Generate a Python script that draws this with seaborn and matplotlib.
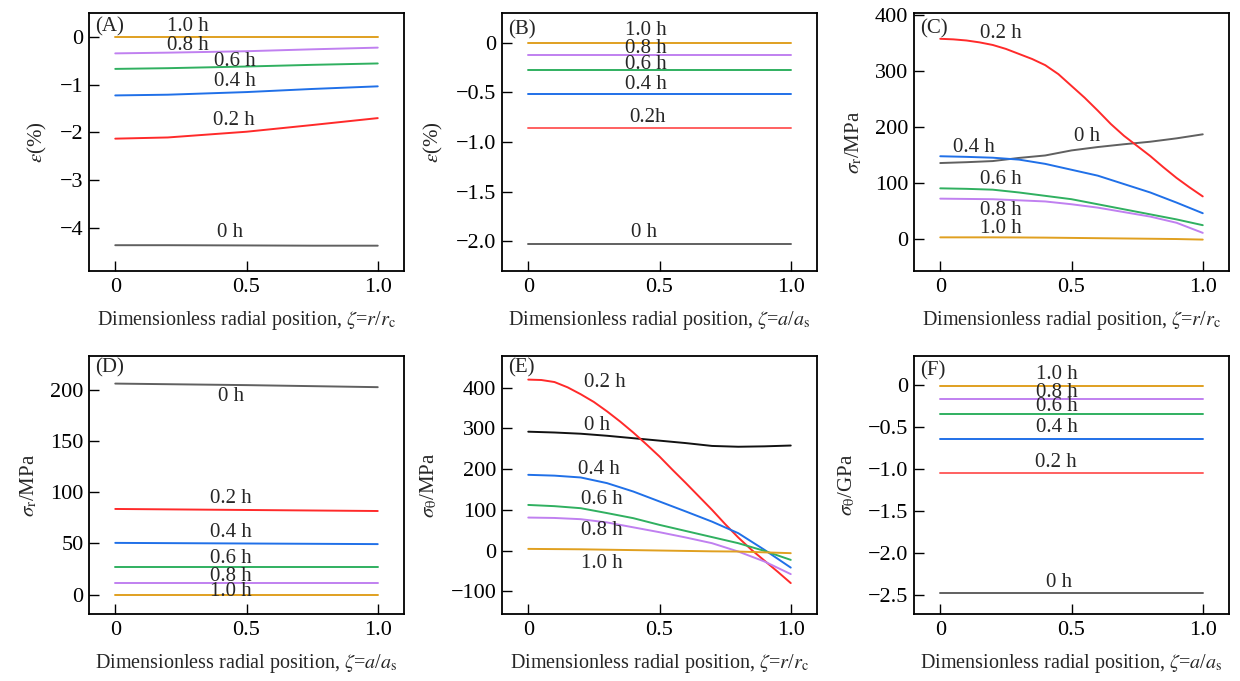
import numpy as np
import pandas as pd
import matplotlib
matplotlib.use("Agg")
import matplotlib.pyplot as plt
import seaborn as sns

sns.set_theme(style="ticks")
plt.rcParams['font.family'] = ['Liberation Serif', 'DejaVu Serif']
plt.rcParams['mathtext.fontset'] = 'stix'

# ---------------- data ----------------
times = ["0 h", "0.2 h", "0.4 h", "0.6 h", "0.8 h", "1.0 h"]
colors = {"0 h": "#606060", "0.2 h": "#FF2A2A", "0.4 h": "#2070E8",
          "0.6 h": "#30B060", "0.8 h": "#C080F0", "1.0 h": "#E0A020"}

x_flat = [0.0, 0.5, 1.0]
x_curve = [0.0, 0.1, 0.2, 0.3, 0.4, 0.5, 0.6, 0.7, 0.8, 0.9, 1.0]
x_fine = [0.0, 0.05, 0.1, 0.15, 0.2, 0.25, 0.3, 0.35, 0.4, 0.45, 0.5,
          0.55, 0.6, 0.65, 0.7, 0.75, 0.8, 0.85, 0.9, 0.95, 1.0]

# (A) strain vs r/rc
A_x = [0.0, 0.2, 0.5, 0.75, 1.0]
A_0 = [-4.36, -4.36, -4.365, -4.37, -4.37]
A_02 = [-2.13, -2.105, -1.985, -1.845, -1.70]
A_04 = [-1.225, -1.21, -1.155, -1.09, -1.035]
A_06 = [-0.67, -0.655, -0.62, -0.585, -0.556]
A_08 = [-0.345, -0.33, -0.30, -0.26, -0.225]
A_10 = [0.0, 0.0, 0.0, 0.0, 0.0]

# (B) strain vs a/as
B_0 = [-2.03, -2.03, -2.03]
B_02 = [-0.857, -0.857, -0.857]
B_04 = [-0.514, -0.514, -0.514]
B_06 = [-0.276, -0.276, -0.276]
B_08 = [-0.126, -0.126, -0.126]
B_10 = [-0.003, -0.003, -0.003]

# (C) sigma_r vs r/rc
C_0 = [135.5, 137, 139, 144.6, 149, 158, 164, 169, 173.5, 179.5, 186.7]
C_02 = [357, 356, 354, 350.6, 346, 339, 330, 321, 310, 294, 273,
        252, 229, 205, 184, 166, 148, 128, 109, 92, 76]
C_04 = [147.6, 146.5, 145, 141.6, 134, 123.5, 113, 98, 83, 65, 46]
C_06 = [90.4, 89.5, 88, 83, 77, 71, 62, 53, 44, 35, 24.7]
C_08 = [72, 71.5, 71, 69, 67, 62, 56, 48, 40, 29, 11]
C_10 = [3, 3, 3, 2.8, 2.5, 2, 1.5, 1, 0.5, 0, -1]

# (D) sigma_r vs a/as
D_0 = [206.5, 205, 203]
D_02 = [83.8, 82.8, 81.8]
D_04 = [50.6, 50.0, 49.4]
D_06 = [26.6, 26.6, 26.6]
D_08 = [11.4, 11.4, 11.4]
D_10 = [0.0, 0.0, 0.0]

# (E) sigma_theta vs r/rc
E_0 = [292, 290, 287, 282, 276, 270, 264, 257, 255, 256, 258]
E_02 = [420, 419, 414, 401, 384, 365, 342, 317, 290, 261, 231,
        198, 166, 133, 100, 65, 32, 2, -25, -52, -80]
E_04 = [186, 184, 179.5, 165.6, 145, 120.5, 96, 71, 42.6, 1.6, -42]
E_06 = [112, 109, 104, 92, 79.5, 63, 48, 33, 18, -1, -23]
E_08 = [81, 80, 77, 69, 57, 45, 32, 18, -2.5, -27, -58]
E_10 = [4, 3.5, 3, 2, 1, 0, -1, -2, -2.5, -4.5, -6.5]

# (F) sigma_theta vs a/as (GPa)
F_0 = [-2.474, -2.474, -2.474]
F_02 = [-1.047, -1.047, -1.047]
F_04 = [-0.636, -0.636, -0.636]
F_06 = [-0.34, -0.34, -0.34]
F_08 = [-0.162, -0.162, -0.162]
F_10 = [-0.005, -0.005, -0.005]


def make_df(xs, series):
    rows = []
    for t, x, vals in zip(times, xs, series):
        for xi, yi in zip(x, vals):
            rows.append({"x": xi, "y": yi, "t": t})
    return pd.DataFrame(rows)


XL_R = r'Dimensionless radial position, $\zeta$=$r$/$r_{\rm c}$'
XL_A = r'Dimensionless radial position, $\zeta$=$a$/$a_{\rm s}$'

panels = [
    dict(tag="(A)", x=[A_x] * 6, s=[A_0, A_02, A_04, A_06, A_08, A_10], xl=XL_R,
         yl=r'$\varepsilon$(%)', ylim=(-4.9, 0.5), yt=[0, -1, -2, -3, -4],
         ytl=["0", "\u22121", "\u22122", "\u22123", "\u22124"],
         lab={"1.0 h": (0.275, 0.21), "0.8 h": (0.275, -0.17), "0.6 h": (0.455, -0.507),
              "0.4 h": (0.455, -0.944), "0.2 h": (0.453, -1.74), "0 h": (0.436, -4.1)},
         tagy=0.21),
    dict(tag="(B)", x=[x_flat] * 6, s=[B_0, B_02, B_04, B_06, B_08, B_10], xl=XL_A,
         yl=r'$\varepsilon$(%)', ylim=(-2.3, 0.3), yt=[0, -0.5, -1.0, -1.5, -2.0],
         ytl=["0", "\u22120.5", "\u22121.0", "\u22121.5", "\u22122.0"],
         lab={"1.0 h": (0.447, 0.126), "0.8 h": (0.447, -0.06), "0.6 h": (0.447, -0.214),
              "0.4 h": (0.447, -0.425), "0.2 h": (0.454, -0.758), "0 h": (0.443, -1.915)},
         labtxt={"0.2 h": "0.2h"}, tagy=0.13),
    dict(tag="(C)", x=[x_curve, x_fine, x_curve, x_curve, x_curve, x_curve],
         s=[C_0, C_02, C_04, C_06, C_08, C_10], xl=XL_R,
         yl=r'$\sigma_{\rm r}$/MPa', ylim=(-57, 403), yt=[0, 100, 200, 300, 400],
         ytl=["0", "100", "200", "300", "400"],
         lab={"0.2 h": (0.23, 366), "0.4 h": (0.13, 163), "0 h": (0.56, 182),
              "0.6 h": (0.23, 107), "0.8 h": (0.23, 51), "1.0 h": (0.23, 18)},
         tagy=375),
    dict(tag="(D)", x=[x_flat] * 6, s=[D_0, D_02, D_04, D_06, D_08, D_10], xl=XL_A,
         yl=r'$\sigma_{\rm r}$/MPa', ylim=(-19, 233.5), yt=[0, 50, 100, 150, 200],
         ytl=["0", "50", "100", "150", "200"],
         lab={"0 h": (0.44, 194), "0.2 h": (0.442, 94.5), "0.4 h": (0.442, 61),
              "0.6 h": (0.442, 35.7), "0.8 h": (0.442, 18), "1.0 h": (0.442, 2.6)},
         tagy=222),
    dict(tag="(E)", x=[x_curve, x_fine, x_curve, x_curve, x_curve, x_curve],
         s=[E_0, E_02, E_04, E_06, E_08, E_10], xl=XL_R,
         yl=r'$\sigma_{\rm \theta}$/MPa', ylim=(-156, 478), yt=[-100, 0, 100, 200, 300, 400],
         ytl=["\u2212100", "0", "100", "200", "300", "400"],
         lab={"0.2 h": (0.293, 412), "0 h": (0.261, 307), "0.4 h": (0.27, 198),
              "0.6 h": (0.28, 124.6), "0.8 h": (0.28, 48), "1.0 h": (0.28, -31)},
         tagy=448),
    dict(tag="(F)", x=[x_flat] * 6, s=[F_0, F_02, F_04, F_06, F_08, F_10], xl=XL_A,
         yl=r'$\sigma_{\rm \theta}$/GPa', ylim=(-2.73, 0.35), yt=[0, -0.5, -1.0, -1.5, -2.0, -2.5],
         ytl=["0", "\u22120.5", "\u22121.0", "\u22121.5", "\u22122.0", "\u22122.5"],
         lab={"1.0 h": (0.446, 0.134), "0.8 h": (0.446, -0.09), "0.6 h": (0.446, -0.25),
              "0.4 h": (0.446, -0.506), "0.2 h": (0.44, -0.92), "0 h": (0.453, -2.355)},
         tagy=0.17),
]

fig = plt.figure(figsize=(12.4, 6.81), dpi=100)
W, H = 1240, 681
lefts = [89, 502, 914]
tops = [13, 356]
aw, ah = 315, 258

for i, p in enumerate(panels):
    r, c = divmod(i, 3)
    ax = fig.add_axes([lefts[c] / W, 1 - (tops[r] + ah) / H, aw / W, ah / H])
    df = make_df(p["x"], p["s"])
    pal = dict(colors)
    if p["tag"] == "(E)":
        pal["0 h"] = "#111111"
    if p["tag"] in ("(B)", "(F)"):
        pal["0.2 h"] = "#FF6060"
    sns.lineplot(data=df, x="x", y="y", hue="t", palette=pal, hue_order=times,
                 ax=ax, legend=False, linewidth=1.4, estimator=None, sort=False)
    ax.set_xlim(-0.1, 1.1)
    ax.set_ylim(*p["ylim"])
    ax.set_xticks([0, 0.5, 1.0])
    ax.set_xticklabels(["0", "0.5", "1.0"])
    ax.set_yticks(p["yt"])
    ax.set_yticklabels(p["ytl"])
    ax.tick_params(direction="in", length=7, width=1, labelsize=16, colors="black",
                   top=False, right=False)
    ax.tick_params(axis="x", pad=5)
    ax.tick_params(axis="y", pad=4)
    ax.set_xlabel(p["xl"], fontsize=14.5, labelpad=9)
    ax.set_ylabel(p["yl"], fontsize=15, labelpad=8)
    for sp in ax.spines.values():
        sp.set_linewidth(1.3)
        sp.set_color("black")
    ax.text(-0.075, p["tagy"], p["tag"], fontsize=15, ha="left", va="center")
    labtxt = p.get("labtxt", {})
    for t, (lx, ly) in p["lab"].items():
        ax.text(lx, ly, labtxt.get(t, t), fontsize=15, ha="center", va="center")

fig.savefig("out.png", dpi=100)
